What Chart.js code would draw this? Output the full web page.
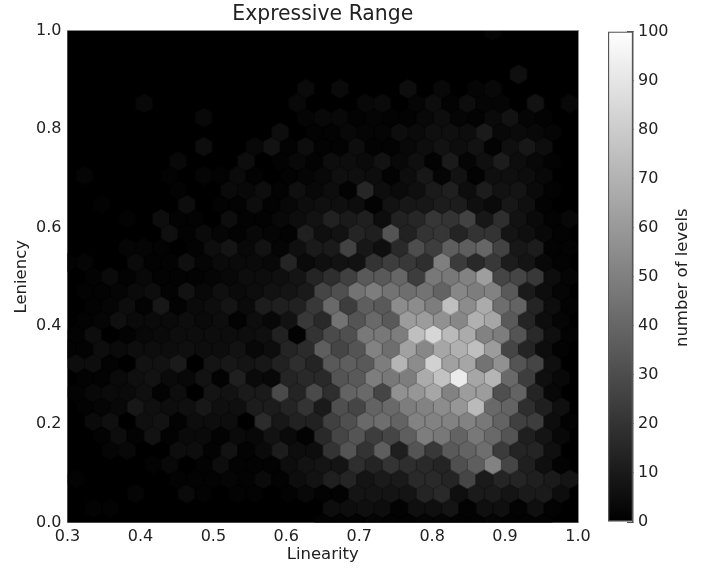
<!DOCTYPE html>
<html>
<head>
<meta charset="utf-8">
<script src="https://cdn.jsdelivr.net/npm/chart.js@4"></script>
<style>
html,body{margin:0;padding:0;background:#fff;width:718px;height:569px;overflow:hidden}
#wrap{position:relative;width:718px;height:569px;filter:blur(0.6px)}
canvas{position:absolute;top:0}
#main{left:0}
#bar{left:590px}
</style>
</head>
<body>
<div id="wrap">
<canvas id="main" width="718" height="569"></canvas>
<canvas id="bar" width="128" height="569"></canvas>
</div>
<script>
const chartTitle = "Expressive Range";
const xLabel = "Linearity";
const yLabel = "Leniency";
const barLabel = "number of levels";
const xRange = [0.3, 1.0];
const yRange = [0.0, 1.0];
const colorRange = [0, 100];
const gridColumns = 30;
const gridRows = 34;

// Counts per hexagon; the suffix is the row number counted from the bottom
const row34 = [0,0,0,0,0,0,0,0,0,0,0,0,0,0,0,0,0,0,0,0,0,0,0,0,0,2,0,0,0,0,0];
const row33 = [0,0,0,0,0,0,0,0,0,0,0,0,0,0,0,0,0,0,0,0,0,0,0,0,0,0,0,0,0,0];
const row32 = [0,0,0,0,0,0,0,0,0,0,0,0,0,0,0,0,0,0,0,0,0,0,0,0,0,0,0,0,0,0,0];
const row31 = [0,0,0,0,0,0,0,0,0,0,0,0,0,0,0,0,0,0,0,0,0,0,0,0,0,0,6,0,0,0];
const row30 = [0,0,0,0,0,0,0,0,0,0,0,0,0,0,4,0,4,0,0,0,5,0,3,0,2,3,0,0,0,0,0];
const row29 = [0,0,0,0,3,0,0,0,0,0,0,0,0,3,0,0,0,3,4,0,2,5,1,5,2,2,0,7,0,3];
const row28 = [0,0,0,0,0,0,0,0,3,0,0,0,0,0,2,3,3,1,2,1,1,3,5,2,1,4,7,2,1,0,0];
const row27 = [0,0,0,0,0,0,0,0,0,0,0,0,5,0,1,1,3,2,2,5,4,6,6,5,10,3,4,3,2,0];
const row26 = [0,0,0,0,0,0,0,0,5,0,0,3,7,1,5,1,1,5,1,1,3,5,7,5,7,1,6,9,5,0,0];
const row25 = [0,0,0,0,0,0,3,0,0,0,5,0,1,3,1,5,5,4,7,3,6,1,10,2,6,11,5,3,1,0];
const row24 = [0,2,0,0,0,0,1,0,2,1,4,1,0,1,2,3,6,6,5,1,5,9,2,7,1,6,6,5,3,0,0];
const row23 = [0,0,0,0,0,0,1,0,0,4,3,5,1,6,3,5,1,15,5,4,6,10,12,5,11,7,8,4,1,0];
const row22 = [0,0,1,0,0,0,0,5,0,1,1,5,1,3,5,6,6,5,1,7,9,9,11,11,6,4,9,6,1,0,0];
const row21 = [0,0,0,1,0,5,1,1,0,5,1,1,3,5,7,13,10,12,5,13,15,21,20,26,9,18,7,4,1,3];
const row20 = [0,0,0,0,0,0,6,1,4,2,1,3,2,1,12,6,7,14,12,33,13,20,21,14,20,20,8,6,3,1,0];
const row19 = [0,0,0,2,2,1,0,1,5,8,3,7,2,6,10,10,26,9,6,16,30,24,37,37,40,26,9,11,1,1];
const row18 = [1,2,0,0,4,1,1,6,2,4,4,4,3,14,4,6,7,7,20,24,22,18,50,23,16,22,11,8,3,1,0];
const row17 = [0,1,4,1,3,1,1,1,2,3,5,5,6,8,14,18,25,35,35,40,24,47,47,51,62,27,27,22,5,2];
const row16 = [0,1,1,2,4,5,1,7,3,6,4,5,7,8,10,27,31,45,49,45,43,45,39,53,49,51,35,10,5,2,0];
const row15 = [0,1,2,5,1,9,1,4,5,8,4,11,12,13,22,41,24,37,35,55,55,49,75,55,67,43,39,14,5,1];
const row14 = [0,1,2,6,4,4,4,5,4,5,1,5,3,7,22,16,45,33,41,35,61,61,57,53,69,65,35,14,5,2,0];
const row13 = [1,5,0,1,3,4,5,5,5,5,5,6,13,1,20,29,31,47,47,49,75,84,73,67,51,49,33,16,6,1];
const row12 = [1,1,5,4,5,5,5,6,5,5,7,3,5,14,17,37,27,33,51,43,63,53,65,69,75,61,27,14,5,1,0];
const row11 = [5,5,1,0,7,7,10,0,8,9,8,9,13,18,14,35,37,35,49,71,55,82,63,65,45,57,33,27,6,0];
const row10 = [0,1,1,4,6,7,4,3,7,1,12,4,3,14,16,16,33,35,49,47,49,67,76,92,65,71,41,24,6,3,0];
const row09 = [1,3,4,4,6,1,5,0,8,7,10,10,29,14,29,18,39,41,27,57,59,65,51,61,61,31,39,14,3,0];
const row08 = [0,1,2,3,9,6,5,6,9,6,6,11,11,14,20,10,31,27,39,41,49,51,55,59,73,41,39,18,12,6,0];
const row07 = [0,4,6,0,6,7,1,5,5,5,0,17,9,13,13,25,31,41,43,39,51,51,51,51,47,39,25,24,5,1];
const row06 = [0,0,1,5,1,7,1,4,4,1,4,3,7,4,1,16,27,33,24,27,37,49,47,39,47,41,33,12,8,3,0];
const row05 = [0,0,2,3,0,0,5,5,1,7,1,4,11,5,5,20,33,20,37,12,33,22,35,39,43,23,14,14,6,0];
const row04 = [0,0,0,0,0,1,3,0,1,5,1,1,1,5,7,8,8,18,14,20,18,16,14,31,37,51,27,12,6,1,0];
const row03 = [1,0,0,0,0,0,1,1,1,2,1,4,1,5,7,12,14,8,10,10,16,16,14,27,10,14,14,12,10,8];
const row02 = [0,0,0,0,2,0,0,4,1,0,1,1,0,1,3,1,1,8,8,8,8,14,16,6,10,10,8,10,10,5,0];
const row01 = [0,1,1,0,0,0,0,0,0,0,0,0,0,0,0,5,5,6,5,1,6,6,8,1,6,6,1,6,1,0];
const row00 = [0,0,0,0,0,0,0,0,0,0,0,0,0,0,0,1,1,1,2,1,1,2,2,1,1,2,1,1,1,0,0];

const rowsFromBottom = [row00,row01,row02,row03,row04,row05,row06,row07,row08,row09,
  row10,row11,row12,row13,row14,row15,row16,row17,row18,row19,
  row20,row21,row22,row23,row24,row25,row26,row27,row28,row29,
  row30,row31,row32,row33,row34];

const xStep = (xRange[1] - xRange[0]) / gridColumns;
const yStep = (yRange[1] - yRange[0]) / gridRows;
const hexPoints = [];
rowsFromBottom.forEach((row, k) => {
  row.forEach((v, i) => {
    if (v > 0) hexPoints.push({
      x: xRange[0] + (i + (k % 2 ? 0.5 : 0)) * xStep,
      y: yRange[0] + k * yStep,
      v: v
    });
  });
});

function grayOf(v) {
  const g = Math.round(Math.min(255, v * 2.55));
  return `rgb(${g},${g},${g})`;
}
const spriteCache = {};
function hexSprite(v) {
  if (spriteCache[v]) return spriteCache[v];
  const c = document.createElement('canvas');
  c.width = 22; c.height = 24;
  const g = c.getContext('2d');
  const s = 9.85, w = s * Math.sqrt(3) / 2, cx = 11, cy = 12;
  g.fillStyle = grayOf(v);
  g.beginPath();
  g.moveTo(cx, cy - s);
  g.lineTo(cx + w, cy - s / 2);
  g.lineTo(cx + w, cy + s / 2);
  g.lineTo(cx, cy + s);
  g.lineTo(cx - w, cy + s / 2);
  g.lineTo(cx - w, cy - s / 2);
  g.closePath();
  g.fill();
  spriteCache[v] = c;
  return c;
}

const fontFamily = "'DejaVu Sans'";
const textColor = '#222';
const frameColor = '#8c8c8c';

const blackBackground = {
  id: 'blackBackground',
  beforeDatasetsDraw(chart) {
    const a = chart.chartArea, ctx = chart.ctx;
    ctx.save();
    ctx.fillStyle = '#000';
    ctx.fillRect(a.left, a.top, a.right - a.left, a.bottom - a.top);
    ctx.restore();
  }
};

new Chart(document.getElementById('main'), {
  type: 'scatter',
  data: { datasets: [{
    label: barLabel,
    data: hexPoints,
    pointStyle: ctx => hexSprite(ctx.raw.v),
    pointRadius: 9,
    backgroundColor: ctx => grayOf(ctx.raw.v),
    borderWidth: 0
  }]},
  plugins: [blackBackground],
  options: {
    responsive: false,
    animation: false,
    devicePixelRatio: 1,
    events: [],
    layout: { padding: { left: 0, right: 140, top: 0, bottom: 0 } },
    plugins: {
      legend: { display: false },
      tooltip: { enabled: false },
      title: {
        display: true, text: chartTitle, color: textColor, fullSize: false,
        font: { family: fontFamily, size: 20.4, weight: 'normal', lineHeight: 1.2 },
        padding: { top: 2, bottom: 4.5 }
      }
    },
    scales: {
      x: {
        type: 'linear', position: 'bottom', min: xRange[0], max: xRange[1],
        afterFit: s => { s.height = 46.5; },
        grid: { display: false, drawTicks: false },
        border: { display: true, color: frameColor, width: 1 },
        ticks: { stepSize: 0.1, color: textColor, padding: 5, maxRotation: 0, autoSkip: false,
          font: { family: fontFamily, size: 16 }, callback: v => Number(v).toFixed(1) },
        title: { display: true, text: xLabel, color: textColor,
          font: { family: fontFamily, size: 16.5 }, padding: { top: 0, bottom: 4 } }
      },
      y: {
        type: 'linear', position: 'left', min: yRange[0], max: yRange[1],
        afterFit: s => { s.width = 67.5; },
        grid: { display: false, drawTicks: false },
        border: { display: true, color: frameColor, width: 1 },
        ticks: { stepSize: 0.2, color: textColor, padding: 6, autoSkip: false,
          font: { family: fontFamily, size: 16 }, callback: v => Number(v).toFixed(1) },
        title: { display: true, text: yLabel, color: textColor,
          font: { family: fontFamily, size: 16.5 }, padding: { top: 12, bottom: 0 } }
      },
      xTop: {
        type: 'linear', position: 'top', min: xRange[0], max: xRange[1],
        afterFit: s => { s.height = 0; },
        grid: { display: false, drawTicks: false },
        border: { display: true, color: frameColor, width: 1 },
        ticks: { display: false }
      },
      yRight: {
        type: 'linear', position: 'right', min: yRange[0], max: yRange[1],
        afterFit: s => { s.width = 0; },
        grid: { display: false, drawTicks: false },
        border: { display: true, color: frameColor, width: 1 },
        ticks: { display: false }
      }
    }
  }
});

const barEdge = '#555';
const barTitle = {
  id: 'barTitle',
  afterDraw(chart) {
    const ctx = chart.ctx, s = chart.scales.y;
    ctx.save();
    ctx.translate(93, (s.top + s.bottom) / 2 + 1);
    ctx.rotate(-Math.PI / 2);
    ctx.textAlign = 'center';
    ctx.textBaseline = 'middle';
    ctx.fillStyle = textColor;
    ctx.font = `16.5px ${fontFamily}`;
    ctx.fillText(barLabel, 0, 0);
    ctx.restore();
  }
};

new Chart(document.getElementById('bar'), {
  type: 'bar',
  data: {
    labels: [barLabel],
    datasets: [{
      label: barLabel,
      data: [colorRange],
      barPercentage: 1,
      categoryPercentage: 1,
      borderColor: barEdge,
      borderWidth: 1.5,
      borderSkipped: false,
      backgroundColor: ctx => {
        const a = ctx.chart.chartArea;
        if (!a) return '#888';
        const grad = ctx.chart.ctx.createLinearGradient(0, a.bottom, 0, a.top);
        grad.addColorStop(0, '#000');
        grad.addColorStop(1, '#fff');
        return grad;
      }
    }]
  },
  plugins: [barTitle],
  options: {
    responsive: false,
    animation: false,
    devicePixelRatio: 1,
    events: [],
    layout: { padding: { left: 18, right: 0, top: 31.5, bottom: 47 } },
    plugins: { legend: { display: false }, tooltip: { enabled: false } },
    scales: {
      x: { display: false },
      y: {
        position: 'right', min: colorRange[0], max: colorRange[1],
        afterFit: s => { s.width = 85; },
        grid: { drawOnChartArea: false, tickLength: -6, tickWidth: 1, tickColor: barEdge },
        border: { display: true, color: barEdge, width: 1.5 },
        ticks: { stepSize: 10, color: textColor, padding: 11, autoSkip: false,
          font: { family: fontFamily, size: 16 } }
      }
    }
  }
});
</script>
</body>
</html>
